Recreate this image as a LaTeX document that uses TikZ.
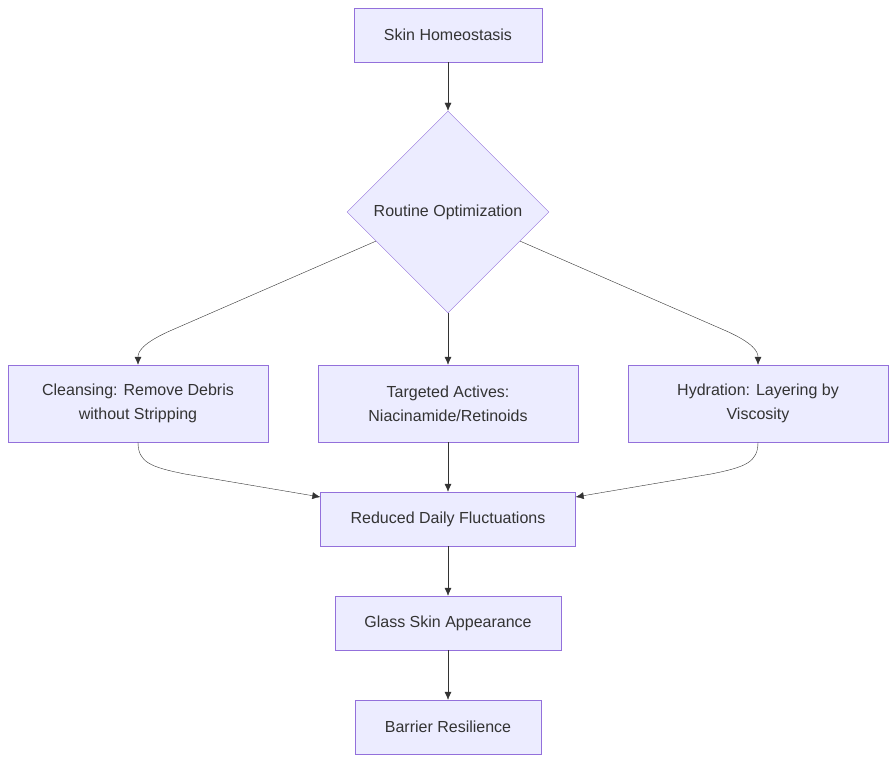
\documentclass[tikz,border=0pt]{standalone}
\usepackage{fontspec}
\setmainfont{Liberation Sans}
\usetikzlibrary{arrows.meta}
\usetikzlibrary{
    shapes.geometric % Diamond for the decision node.
}
\definecolor{boxfill}{HTML}{ECECFF}
\definecolor{boxline}{HTML}{9370DB}
\definecolor{ink}{HTML}{333333}
\tikzset{
    stepbox/.style = {draw = boxline, fill = boxfill, text = ink,
        minimum height = 54pt, inner sep = 0pt, align = center,
        font = \fontsize{16pt}{24pt}\selectfont},
    flow/.style = {draw = ink, -{Latex[length=8pt, width=7pt]}}
}
\begin{document}
\begin{tikzpicture}[x = 1pt, y = -1pt]

        % Fix the page to the size of the reference.
        \useasboundingbox (0, 0) rectangle (896, 763);

        % Main column of nodes.
        \node[stepbox, minimum width = 188pt] (home) at (448, 35) {Skin Homeostasis};
        \node[stepbox, diamond, minimum width = 202pt, minimum height = 202pt]
            (rout) at (448, 212) {Routine Optimization};

        % The three branches.
        \node[stepbox, minimum width = 260pt, minimum height = 77pt]
            (clean) at (138, 403.5) {Cleansing: Remove Debris\\without Stripping};
        \node[stepbox, minimum width = 260pt, minimum height = 77pt]
            (act) at (448, 403.5) {Targeted Actives:\\Niacinamide/Retinoids};
        \node[stepbox, minimum width = 260pt, minimum height = 77pt]
            (hyd) at (758, 403.5) {Hydration: Layering by\\Viscosity};

        % Lower column.
        \node[stepbox, minimum width = 255pt] (fluct) at (448, 519) {Reduced Daily Fluctuations};
        \node[stepbox, minimum width = 226pt] (glass) at (448, 623) {Glass Skin Appearance};
        \node[stepbox, minimum width = 186pt] (barr) at (448, 727) {Barrier Resilience};

        % Straight connectors.
        \draw[flow] (home) -- (rout);
        \draw[flow] (rout) -- (act);
        \draw[flow] (act) -- (fluct);
        \draw[flow] (fluct) -- (glass);
        \draw[flow] (glass) -- (barr);

        % Curved connectors out of the decision.
        \draw[flow] (rout.202) -- (172, 330)
            .. controls (142, 343) and (138, 352) .. (clean.north);
        \draw[flow] (rout.338) -- (724, 330)
            .. controls (754, 343) and (758, 352) .. (hyd.north);

        % Curved connectors into the fluctuations node.
        \draw[flow] (clean.south) .. controls (138, 462) and (150, 467) .. (185, 474)
            -- (fluct.west |- 0, 497);
        \draw[flow] (hyd.south) .. controls (758, 462) and (746, 467) .. (711, 474)
            -- (fluct.east |- 0, 497);
    \end{tikzpicture}
\end{document}
